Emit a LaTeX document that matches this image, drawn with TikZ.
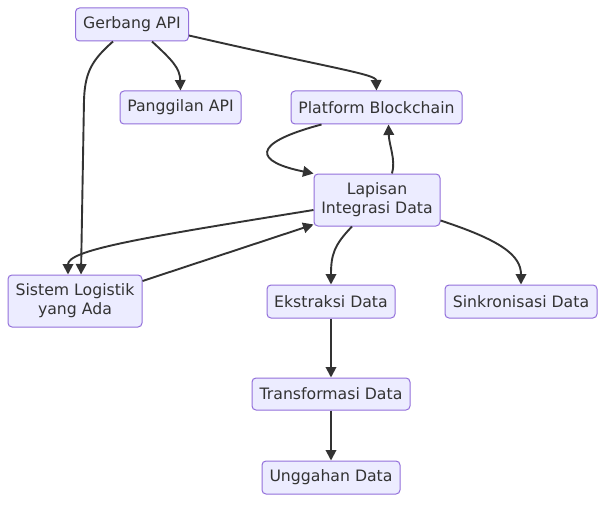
\documentclass[tikz,border=0pt]{standalone}
\usepackage{fontspec}
\setmainfont{DejaVu Sans}
\usetikzlibrary{arrows.meta}
\definecolor{nodefill}{HTML}{ECECFF}
\definecolor{nodeline}{HTML}{9370DB}
\definecolor{ink}{HTML}{333333}
\tikzset{
  box/.style={draw=nodeline, fill=nodefill, line width=1pt, rounded corners=4pt,
    inner sep=0pt, align=center, text=ink,
    font=\fontsize{15.7}{19}\selectfont},
  link/.style={draw=ink, line width=1.9pt, -{Triangle[length=10.5pt,width=10.5pt]}}
}
\begin{document}
\begin{tikzpicture}[x=1pt,y=-1pt]
\useasboundingbox[fill=white] (0,0) rectangle (613,508);
\node[box, minimum width=113pt, minimum height=33pt] (gw) at (132,24.5) {Gerbang API};
\node[box, minimum width=121pt, minimum height=33pt] (pan) at (180.5,107.5) {Panggilan API};
\node[box, minimum width=171pt, minimum height=33pt] (pb) at (376.5,107.5) {Platform Blockchain};
\node[box, minimum width=126pt, minimum height=52pt] (lap) at (377,200) {Lapisan\\Integrasi Data};
\node[box, minimum width=134pt, minimum height=52pt] (sl) at (75,301) {Sistem Logistik\\yang Ada};
\node[box, minimum width=128pt, minimum height=33pt] (ek) at (331,301.5) {Ekstraksi Data};
\node[box, minimum width=152pt, minimum height=33pt] (sk) at (521,301.5) {Sinkronisasi Data};
\node[box, minimum width=158pt, minimum height=32pt] (tr) at (331,394) {Transformasi Data};
\node[box, minimum width=138pt, minimum height=33pt] (ug) at (331,477.5) {Unggahan Data};

\draw[link] ([xshift=20pt]gw.south) .. controls (172,60) and (180,68) .. (pan.north);
\draw[link] ([yshift=-11pt]gw.east) .. controls (330,68) and (376,74) .. (pb.north);
\draw[link] ([xshift=-19pt]gw.south) .. controls (92,60) and (85,72) .. (84,100) -- ([xshift=6pt]sl.north);
\draw[link] ([xshift=-55pt]pb.south) .. controls (248,144) and (256,162) .. (lap.north west);
\draw[link] ([xshift=15pt]lap.north) .. controls (396,160) and (389,145) .. ([xshift=12pt]pb.south);
\draw[link] ([yshift=-10pt]lap.west) .. controls (140,238) and (68,250) .. ([xshift=-7pt]sl.north);
\draw[link] ([yshift=20pt]sl.east) -- ([yshift=2pt]lap.south west);
\draw[link] ([xshift=-25pt]lap.south) .. controls (334,245) and (331,255) .. (ek.north);
\draw[link] ([yshift=6pt]lap.south east) .. controls (500,240) and (521,255) .. (sk.north);
\draw[link] (ek) -- (tr);
\draw[link] (tr) -- (ug);
\end{tikzpicture}
\end{document}
